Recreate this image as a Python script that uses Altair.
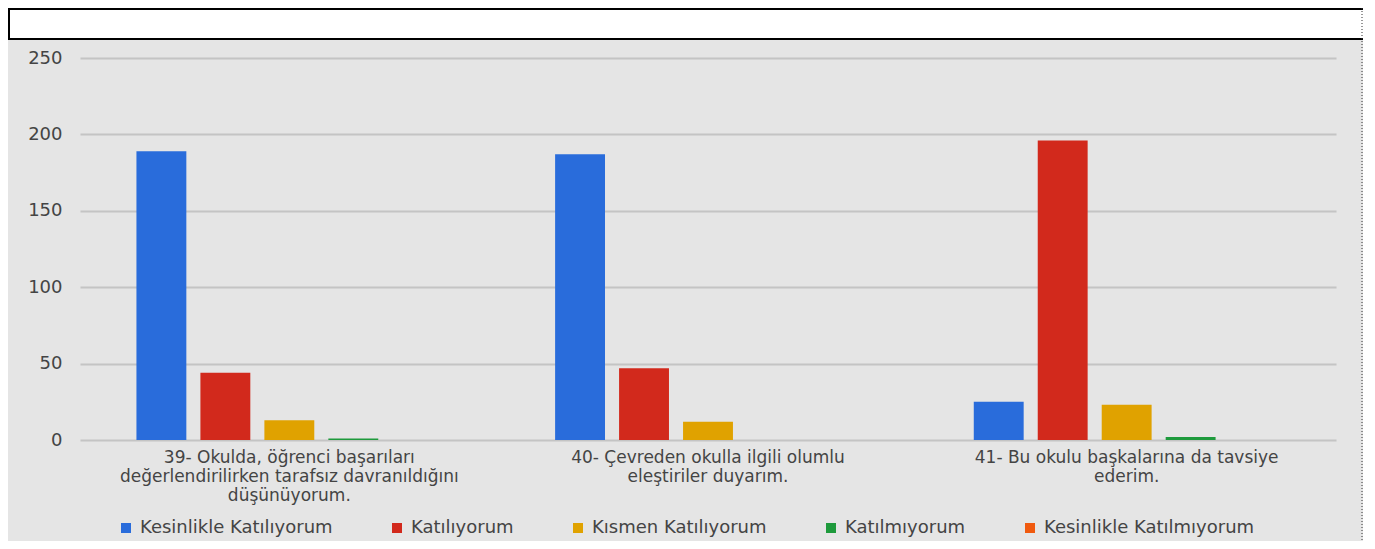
import altair as alt
import pandas as pd

questions = [
    "39- Okulda, öğrenci başarıları|değerlendirilirken tarafsız davranıldığını|düşünüyorum.",
    "40- Çevreden okulla ilgili olumlu|eleştiriler duyarım.",
    "41- Bu okulu başkalarına da tavsiye|ederim.",
]
responses = [
    "Kesinlikle Katılıyorum",
    "Katılıyorum",
    "Kısmen Katılıyorum",
    "Katılmıyorum",
    "Kesinlikle Katılmıyorum",
]
colors = ["#296cdb", "#d2291c", "#e0a200", "#1e9a3c", "#f05a0f"]

kesinlikle_katiliyorum = [189, 187, 25]
katiliyorum = [44, 47, 196]
kismen_katiliyorum = [13, 12, 23]
katilmiyorum = [1, 0, 2]
kesinlikle_katilmiyorum = [0, 0, 0]

series = [kesinlikle_katiliyorum, katiliyorum, kismen_katiliyorum,
          katilmiyorum, kesinlikle_katilmiyorum]

rows = []
for r, vals in zip(responses, series):
    for q, v in zip(questions, vals):
        rows.append({"soru": q, "yanit": r, "deger": v})
df = pd.DataFrame(rows)

FONT = "DejaVu Sans"
TXT = "#444444"

bars = alt.Chart(df).mark_bar().encode(
    x=alt.X("soru:N", sort=questions, title=None,
            scale=alt.Scale(paddingInner=0.236, paddingOuter=0.118),
            axis=alt.Axis(labelExpr="split(datum.label, '|')", labelAngle=0,
                          labelFont=FONT, labelFontSize=17, labelColor=TXT,
                          labelLineHeight=19, labelPadding=9, labelLimit=0,
                          labelBaseline="top",
                          domain=False, ticks=False, grid=False)),
    xOffset=alt.XOffset("yanit:N", sort=responses,
                        scale=alt.Scale(paddingInner=0.22, paddingOuter=0.11)),
    y=alt.Y("deger:Q", title=None,
            scale=alt.Scale(domain=[0, 250], nice=False),
            axis=alt.Axis(values=[0, 50, 100, 150, 200, 250], labelFont=FONT,
                          labelFontSize=18, labelColor=TXT, labelPadding=18,
                          domain=False, ticks=False, grid=True,
                          gridColor="#c4c4c4", gridWidth=2)),
    color=alt.Color("yanit:N", sort=responses, title=None,
                    scale=alt.Scale(domain=responses, range=colors),
                    legend=alt.Legend(orient="none", direction="horizontal",
                                      legendX=37, legendY=461, padding=0,
                                      symbolType="square", symbolSize=100,
                                      symbolStrokeWidth=0, symbolOffset=0,
                                      labelFont=FONT, labelFontSize=18,
                                      labelColor=TXT, labelOffset=5,
                                      columnPadding=55, labelLimit=0)),
)

one = pd.DataFrame({"k": [0]})
header = alt.Chart(one).mark_rect(fill="white", stroke="black", strokeWidth=2).encode(
    x=alt.value(-71), x2=alt.value(1290), y=alt.value(-49), y2=alt.value(-19)
)
right_edge = alt.Chart(one).mark_rule(color="#333333", strokeDash=[1, 2], strokeWidth=1).encode(
    x=alt.value(1282), y=alt.value(-50), y2=alt.value(490)
)

chart = alt.layer(bars, header, right_edge).properties(
    width=1256, height=382,
    autosize=alt.AutoSizeParams(type="none"),
    padding={"left": 72, "top": 50, "right": 27, "bottom": 101},
    background="#e5e5e5",
).configure_view(stroke=None)

chart.save("out.html", embed_options={"renderer": "svg", "actions": False})
